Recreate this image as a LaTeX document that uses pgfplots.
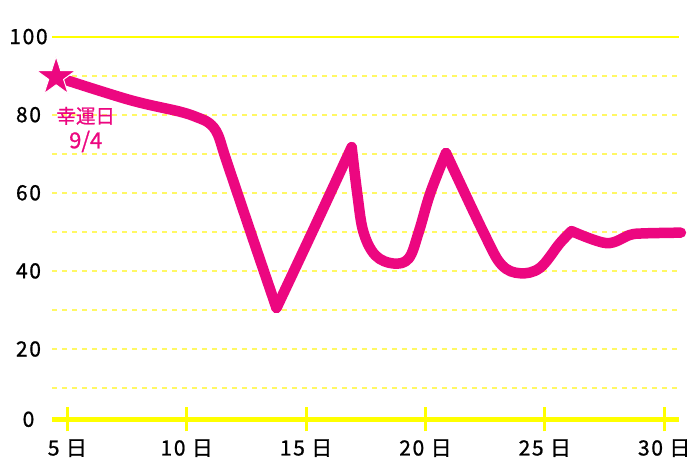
\documentclass[border=0pt]{standalone}
\usepackage{pgfplots}
\pgfplotsset{compat=1.18}
\usepackage{fontspec}
\setmainfont{Noto Sans CJK JP}
\newfontfamily\lbl{Noto Sans CJK JP}[FakeBold=0.9, LetterSpace=8]
\newfontfamily\note{Noto Sans CJK JP}[FakeBold=0.9]

\definecolor{lpink}{RGB}{236,7,128}
\definecolor{axyel}{RGB}{255,255,0}
\definecolor{gridyel}{RGB}{255,248,100}

% filled five-pointed star
\pgfdeclareplotmark{fstar}{%
  \pgfpathmoveto{\pgfpointpolar{90}{\pgfplotmarksize}}%
  \pgfpathlineto{\pgfpointpolar{126}{0.382\pgfplotmarksize}}%
  \pgfpathlineto{\pgfpointpolar{162}{\pgfplotmarksize}}%
  \pgfpathlineto{\pgfpointpolar{198}{0.382\pgfplotmarksize}}%
  \pgfpathlineto{\pgfpointpolar{234}{\pgfplotmarksize}}%
  \pgfpathlineto{\pgfpointpolar{270}{0.382\pgfplotmarksize}}%
  \pgfpathlineto{\pgfpointpolar{306}{\pgfplotmarksize}}%
  \pgfpathlineto{\pgfpointpolar{342}{0.382\pgfplotmarksize}}%
  \pgfpathlineto{\pgfpointpolar{18}{\pgfplotmarksize}}%
  \pgfpathlineto{\pgfpointpolar{54}{0.382\pgfplotmarksize}}%
  \pgfpathclose
  \pgfusepathqfillstroke
}

\begin{document}
\begin{tikzpicture}
\path[use as bounding box] (-26.15pt,-23.85pt) rectangle (323.85pt,209.65pt);
\begin{axis}[
    scale only axis,
    width=313.35pt, height=191.35pt,
    xmin=4.37, xmax=30.62, ymin=2, ymax=100,
    clip=false,
    axis x line=bottom, axis y line=left,
    x axis line style={-, draw=axyel, line width=2.3pt},
    y axis line style={draw=none},
    xtick={5,10,...,30},
    xticklabels={5 日,10 日,15 日,20 日,25 日,30 日},
    ytick={2,20,40,60,80,100},
    yticklabels={0,20,40,60,80,100},
    minor ytick={10,20,...,90},
    yminorgrids=true, ymajorgrids=false, xmajorgrids=false,
    minor grid style={draw=gridyel, line width=1pt, dash pattern=on 2.5pt off 2.5pt},
    tick align=center,
    major tick length=12pt,
    minor tick length=0pt,
    xtick style={draw=axyel, line width=1.5pt},
    ytick style={draw=none},
    /pgf/number format/assume math mode=true,
    ticklabel style={font=\lbl\fontsize{10.5}{12}\selectfont, text=black},
    xticklabel style={anchor=center, yshift=-8.4pt},
    yticklabel style={anchor=center, xshift=-5.9pt},
]
\draw[axyel, line width=1pt] (rel axis cs:0,1) -- (rel axis cs:1,1);

\pgfplotsset{every axis plot/.append style={lpink, line width=5.25pt, line cap=round, line join=round}}

% segment 1: start -> first low
\addplot[smooth, tension=0.55] coordinates {
    (4.53,89.7) (7.6,83.8) (9.7,80.8) (10.45,79.3) (10.95,77.8)
    (11.3,75.0) (11.65,68.5) (12.7,49.5) (13.76,30.5)
};
% segment 2: rise to first peak
\addplot[smooth, tension=0.5] coordinates {
    (13.76,30.5) (15.3,50.5) (16.91,71.7)
};
% segment 3: first peak -> second peak
\addplot[smooth, tension=0.6] coordinates {
    (16.91,71.7) (17.15,59.5) (17.4,50.0) (17.9,44.0) (18.65,41.9)
    (19.3,43.2) (19.72,50.0) (20.2,59.9) (20.86,70.2)
};
% segment 4: second peak -> third peak
\addplot[smooth, tension=0.6] coordinates {
    (20.86,70.2) (22.5,49.0) (23.2,41.5) (23.96,39.4)
    (24.8,40.8) (25.63,47.1) (26.12,50.2)
};
% segment 5: tail
\addplot[smooth, tension=0.55] coordinates {
    (26.12,50.2) (27.59,47.1) (28.56,49.2) (29.1,49.6) (30.7,49.8)
};

% lucky-day star
\addplot[only marks, mark=fstar, mark size=10.25pt,
    mark options={fill=lpink, draw=white, line width=0.5pt}] coordinates {(4.53,89.65)};

\node[text=lpink, align=center, font=\note\fontsize{9.75}{12.5}\selectfont]
    at (axis cs:5.77,76.2) {幸運日\\{\fontsize{11}{12.5}\selectfont 9/4}};
\end{axis}
\end{tikzpicture}
\end{document}
